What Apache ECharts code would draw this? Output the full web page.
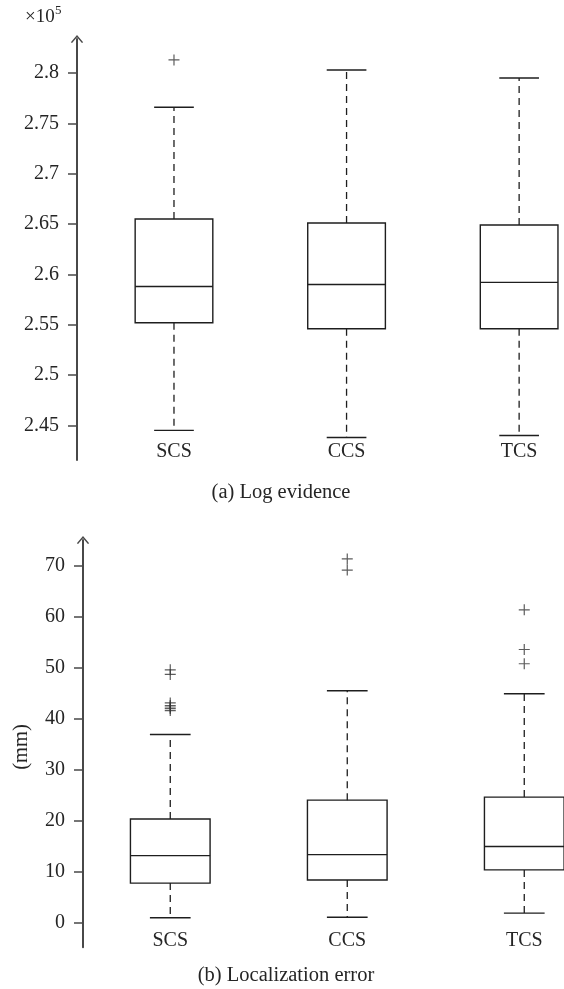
<!DOCTYPE html>
<html>
<head>
<meta charset="utf-8">
<script src="https://cdn.jsdelivr.net/npm/echarts@6/dist/echarts.min.js"></script>
<style>
html,body{margin:0;padding:0;background:#fff;}
#chart{width:564px;height:989px;}
</style>
</head>
<body>
<div id="chart"></div>
<script>
// ---- data ----
const categories = ['SCS', 'CCS', 'TCS'];

// (a) Log evidence, in units of 1e5
const logTicks = [2.45, 2.5, 2.55, 2.6, 2.65, 2.7, 2.75, 2.8];
const logLowerWhisker = [2.445, 2.438, 2.440];
const logQ1 = [2.552, 2.546, 2.546];
const logMedian = [2.588, 2.590, 2.592];
const logQ3 = [2.655, 2.651, 2.649];
const logUpperWhisker = [2.766, 2.803, 2.795];
const logOutlierCat = [0];
const logOutlierVal = [2.813];

// (b) Localization error (mm)
const errTicks = [0, 10, 20, 30, 40, 50, 60, 70];
const errLowerWhisker = [0.9, 1.0, 1.8];
const errQ1 = [7.7, 8.3, 10.3];
const errMedian = [13.1, 13.3, 14.9];
const errQ3 = [20.3, 24.0, 24.6];
const errUpperWhisker = [36.9, 45.5, 44.9];
const errOutlierCat = [0, 0, 0, 0, 0, 0, 0, 1, 1, 2, 2, 2];
const errOutlierVal = [49.6, 48.7, 43.1, 42.6, 42.3, 42.0, 41.6, 71.4, 69.2, 61.4, 53.6, 50.8];

// ---- styling ----
const FONT = 'Liberation Serif';
const TXT = '#252525';
const AX = '#484848';
const BOX = '#1e1e1e';
const BOXW = 0.45;
const CAPW = 0.23;
const PLUS = 'path://M0,5.35 L12,5.35 L12,6.65 L0,6.65 Z M5.35,0 L6.65,0 L6.65,12 L5.35,12 Z';
const ARROW = 'path://M0,7 L6,0 L12,7 L10.8,7.8 L6,2.2 L1.2,7.8 Z';

function boxData(lo, q1, med, q3, hi) {
  return categories.map((c, i) => [i, lo[i], q1[i], med[i], q3[i], hi[i]]);
}
function outData(cats, vals) {
  return vals.map((v, i) => [cats[i], v]);
}

function renderBox(params, api) {
  const x = api.value(0);
  const pLo = api.coord([x, api.value(1)]);
  const pQ1 = api.coord([x, api.value(2)]);
  const pMed = api.coord([x, api.value(3)]);
  const pQ3 = api.coord([x, api.value(4)]);
  const pHi = api.coord([x, api.value(5)]);
  const hw = api.size([BOXW, 0])[0] / 2;
  const hc = api.size([CAPW, 0])[0] / 2;
  const cx = pMed[0];
  const solid = {stroke: BOX, lineWidth: 1.4, fill: null};
  const dashed = {stroke: BOX, lineWidth: 1.3, lineDash: [7, 5], fill: null};
  return {
    type: 'group',
    children: [
      {type: 'line', shape: {x1: cx, y1: pQ3[1], x2: cx, y2: pHi[1]}, style: dashed},
      {type: 'line', shape: {x1: cx, y1: pQ1[1], x2: cx, y2: pLo[1]}, style: dashed},
      {type: 'line', shape: {x1: cx - hc, y1: pHi[1], x2: cx + hc, y2: pHi[1]}, style: solid},
      {type: 'line', shape: {x1: cx - hc, y1: pLo[1], x2: cx + hc, y2: pLo[1]}, style: solid},
      {type: 'rect', shape: {x: cx - hw, y: pQ3[1], width: 2 * hw, height: pQ1[1] - pQ3[1]}, style: solid},
      {type: 'line', shape: {x1: cx - hw, y1: pMed[1], x2: cx + hw, y2: pMed[1]}, style: solid}
    ]
  };
}

function yAxisCfg(gridIndex, min, max, ticks) {
  return {
    type: 'value', gridIndex, min, max, position: 'left',
    axisLine: {show: true, onZero: false, symbol: ['none', ARROW], symbolSize: [13, 8], lineStyle: {color: AX, width: 2}},
    axisTick: {show: true, inside: false, length: 9, customValues: ticks, lineStyle: {color: AX, width: 1.5}},
    axisLabel: {show: true, margin: 18, customValues: ticks, formatter: v => String(v),
      color: TXT, fontFamily: FONT, fontSize: 20},
    splitLine: {show: false}
  };
}
function xAxisCfg(gridIndex, min, max, margin) {
  return {
    type: 'value', gridIndex, min, max, position: 'bottom',
    axisLine: {show: false, onZero: false}, axisTick: {show: false}, splitLine: {show: false},
    axisLabel: {show: true, margin, customValues: [0, 1, 2],
      formatter: v => categories[Math.round(v)],
      color: TXT, fontFamily: FONT, fontSize: 20}
  };
}

const chart = echarts.init(document.getElementById('chart'), null, {renderer: 'canvas'});
chart.setOption({
  animation: false,
  backgroundColor: '#fff',
  grid: [
    {left: 77, top: 39, width: 487, height: 421},
    {left: 83, top: 540, width: 481, height: 407.3}
  ],
  xAxis: [
    xAxisCfg(0, -0.562, 2.260, -18),
    xAxisCfg(1, -0.493, 2.2245, -17)
  ],
  yAxis: [
    yAxisCfg(0, 2.4156, 2.8338, logTicks),
    yAxisCfg(1, -4.91, 75.11, errTicks)
  ],
  series: [
    {type: 'custom', xAxisIndex: 0, yAxisIndex: 0, renderItem: renderBox,
      encode: {x: 0, y: [1, 2, 3, 4, 5]},
      data: boxData(logLowerWhisker, logQ1, logMedian, logQ3, logUpperWhisker)},
    {type: 'scatter', xAxisIndex: 0, yAxisIndex: 0, symbol: PLUS, symbolSize: 11,
      itemStyle: {color: '#333'}, data: outData(logOutlierCat, logOutlierVal)},
    {type: 'custom', xAxisIndex: 1, yAxisIndex: 1, renderItem: renderBox,
      encode: {x: 0, y: [1, 2, 3, 4, 5]},
      data: boxData(errLowerWhisker, errQ1, errMedian, errQ3, errUpperWhisker)},
    {type: 'scatter', xAxisIndex: 1, yAxisIndex: 1, symbol: PLUS, symbolSize: 11,
      itemStyle: {color: '#333'}, data: outData(errOutlierCat, errOutlierVal)}
  ],
  graphic: [
    {type: 'text', left: 25, top: 8, style: {text: '×10', fill: TXT, font: '19px "Liberation Serif"'}},
    {type: 'text', left: 55, top: 4, style: {text: '5', fill: TXT, font: '13px "Liberation Serif"'}},
    {type: 'text', x: 281, y: 493, style: {text: '(a) Log evidence', fill: TXT, font: '20.5px "Liberation Serif"', textAlign: 'center', textVerticalAlign: 'middle'}},
    {type: 'text', x: 286, y: 976, style: {text: '(b) Localization error', fill: TXT, font: '20.5px "Liberation Serif"', textAlign: 'center', textVerticalAlign: 'middle'}},
    {type: 'text', x: 22, y: 747, rotation: Math.PI / 2, style: {text: '(mm)', fill: TXT, font: '20.5px "Liberation Serif"', textAlign: 'center', textVerticalAlign: 'middle'}}
  ]
});
</script>
</body>
</html>
